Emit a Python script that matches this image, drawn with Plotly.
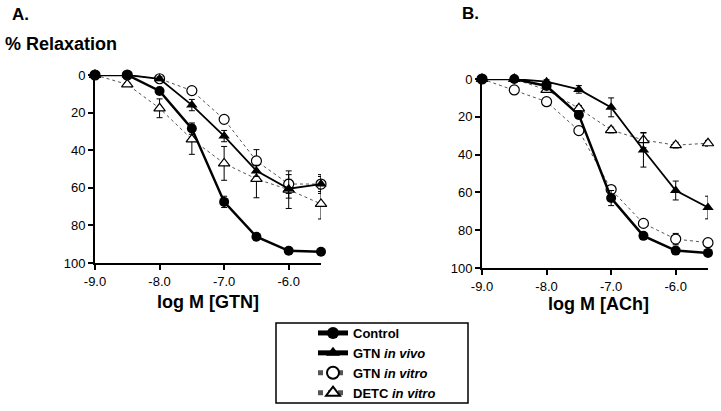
import plotly.graph_objects as go

x_log = [-9.0, -8.5, -8.0, -7.5, -7.0, -6.5, -6.0, -5.5]
x_ticks = [-9.0, -8.0, -7.0, -6.0]
x_tick_labels = ["-9.0", "-8.0", "-7.0", "-6.0"]
y_ticks = [0, 20, 40, 60, 80, 100]

# Panel A (GTN)
a_control = [0, 0, 8.5, 28.5, 67.5, 86, 93.5, 94]
a_control_err = [0, 0, 1, 3, 3, 1.5, 1, 1]
a_gtn_vivo = [0, 0, 2, 16, 32.5, 51, 60.5, 58]
a_gtn_vivo_err = [0, 0, 1, 3, 3, 3, 5, 4]
a_gtn_vitro = [0, 0, 2, 8.3, 23.6, 45.7, 58, 58]
a_gtn_vitro_err = [0, 0, 1, 1, 2, 6, 5, 5]
a_detc = [0, 5, 17.7, 34.2, 47, 55.3, 61, 68.6]
a_detc_err = [0, 1, 5, 8, 9, 10, 10, 8]

# Panel B (ACh)
b_control = [0, 0, 3.7, 19, 63, 83, 90.8, 92]
b_control_err = [0, 0, 1, 2, 4, 1.5, 1.5, 1.5]
b_gtn_vivo = [0, 0, 1.4, 5.5, 15, 37.6, 59, 68]
b_gtn_vivo_err = [0, 0, 1, 2, 5, 9, 5, 6]
b_gtn_vitro = [0, 5.8, 12, 27.3, 58.5, 76.4, 84.7, 86.6]
b_gtn_vitro_err = [0, 1, 1, 1.5, 2, 1.5, 3, 2]
b_detc = [0, 0, 5.8, 15.5, 27, 32.3, 35, 34]
b_detc_err = [0, 0, 1, 1.5, 1.5, 4, 1.5, 1.5]

names = ["<b>Control</b>", "<b>GTN <i>in vivo</i></b>", "<b>GTN <i>in vitro</i></b>",
         "<b>DETC <i>in vitro</i></b>"]

styles = [
    dict(line=dict(color="black", width=2.5), marker=dict(symbol="circle", size=10, color="black")),
    dict(line=dict(color="black", width=1.8), marker=dict(symbol="triangle-up", size=10, color="black")),
    dict(line=dict(color="#555555", width=1, dash="dot"),
         marker=dict(symbol="circle", size=10, color="white", line=dict(color="black", width=1.2))),
    dict(line=dict(color="#555555", width=1, dash="dot"),
         marker=dict(symbol="triangle-up", size=10, color="white", line=dict(color="black", width=1.2))),
]

fig = go.Figure()

panels = [
    ("x", "y", [a_control, a_gtn_vivo, a_gtn_vitro, a_detc],
     [a_control_err, a_gtn_vivo_err, a_gtn_vitro_err, a_detc_err]),
    ("x2", "y2", [b_control, b_gtn_vivo, b_gtn_vitro, b_detc],
     [b_control_err, b_gtn_vivo_err, b_gtn_vitro_err, b_detc_err]),
]

order = [3, 2, 1, 0]
for pi, (xa, ya, series, errs) in enumerate(panels):
    for i in order:
        fig.add_trace(go.Scatter(
            x=x_log, y=series[i], xaxis=xa, yaxis=ya, mode="lines+markers",
            name=names[i], showlegend=(pi == 0), legendrank=i + 1,
            error_y=dict(type="data", array=errs[i], color="black", thickness=1, width=3),
            cliponaxis=False, **styles[i]))

font_b = dict(family="Liberation Sans", size=13, color="black")

axis_common_x = dict(range=[-9.0, -5.5], tickvals=x_ticks, ticktext=x_tick_labels,
                     showline=True, linecolor="black", linewidth=2, ticks="outside",
                     ticklen=5, tickwidth=1.5, tickcolor="black", showgrid=False,
                     zeroline=False, tickfont=font_b, tickprefix="<b>", ticksuffix="</b>")
axis_common_y = dict(range=[100, 0], tickvals=y_ticks, showline=True, linecolor="black",
                     linewidth=2, ticks="outside", ticklen=5, tickwidth=1.5, tickcolor="black",
                     showgrid=False, zeroline=False, tickfont=font_b,
                     tickprefix="<b>", ticksuffix="</b>")

H = 411.0
W = 721.0
fig.update_layout(
    width=721, height=411, margin=dict(l=0, r=0, t=0, b=0, autoexpand=False),
    plot_bgcolor="white", paper_bgcolor="white",
    font=dict(family="Liberation Sans", color="black"),
    xaxis=dict(domain=[95 / W, 321 / W], anchor="y", **axis_common_x),
    yaxis=dict(domain=[1 - 263 / H, 1 - 75 / H], anchor="x", **axis_common_y),
    xaxis2=dict(domain=[482 / W, 708 / W], anchor="y2", **axis_common_x),
    yaxis2=dict(domain=[1 - 268 / H, 1 - 79 / H], anchor="x2", **axis_common_y),
    legend=dict(x=313 / W, y=1 - 318 / H, xanchor="left", yanchor="top",
                bgcolor="rgba(0,0,0,0)", borderwidth=0, tracegroupgap=0,
                font=dict(family="Liberation Sans", size=13, color="black"),
                itemsizing="constant"),
    showlegend=True,
)

fig.add_shape(type="rect", xref="paper", yref="paper",
              x0=276 / W, x1=468 / W, y0=1 - 403 / H, y1=1 - 323 / H,
              line=dict(color="black", width=1.5))

def ann(text, x, y, size, xanchor="left"):
    fig.add_annotation(text=text, xref="paper", yref="paper", x=x / W, y=1 - y / H,
                       xanchor=xanchor, yanchor="middle", showarrow=False,
                       font=dict(family="Liberation Sans", size=size, color="black"))

ann("<b>A.</b>", 10, 15, 17)
ann("<b>B.</b>", 460, 14, 17)
ann("<b>% Relaxation</b>", 3, 44, 18)
ann("<b>log M [GTN]</b>", 208, 302, 18, "center")
ann("<b>log M [ACh]</b>", 598, 304, 18, "center")

fig.write_html("out.html", config={"displayModeBar": False},
               post_script="document.body.style.margin='0';document.body.style.padding='0';")
